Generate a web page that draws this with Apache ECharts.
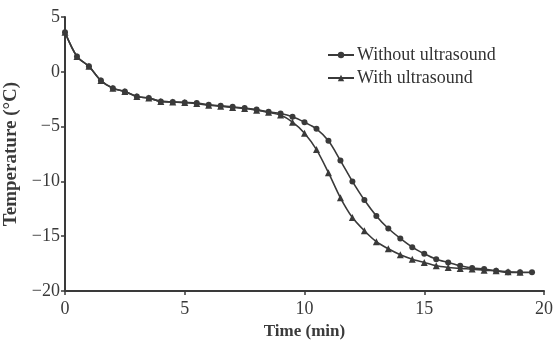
<!DOCTYPE html>
<html>
<head>
<meta charset="utf-8">
<script src="https://cdn.jsdelivr.net/npm/echarts@6/dist/echarts.min.js"></script>
<style>
  html, body { margin: 0; padding: 0; background: #fff; }
  #chart { width: 554px; height: 340px; }
</style>
</head>
<body>
<div id="chart"></div>
<script>
// time (min), sampled every 0.5 min
const timeWithout = [0, 0.5, 1, 1.5, 2, 2.5, 3, 3.5, 4, 4.5, 5, 5.5, 6, 6.5, 7, 7.5, 8, 8.5, 9, 9.5,
  10, 10.5, 11, 11.5, 12, 12.5, 13, 13.5, 14, 14.5, 15, 15.5, 16, 16.5, 17, 17.5, 18, 18.5, 19, 19.5];
const tempWithout = [3.6, 1.4, 0.5, -0.8, -1.5, -1.8, -2.25, -2.4, -2.7, -2.75, -2.8, -2.85, -3.0, -3.1, -3.2, -3.3, -3.45, -3.65, -3.8, -4.1,
  -4.6, -5.2, -6.3, -8.1, -10.0, -11.7, -13.15, -14.3, -15.2, -16.0, -16.6, -17.1, -17.4, -17.7, -17.9, -18.0, -18.15, -18.3, -18.3, -18.3];

const timeWith = [0, 0.5, 1, 1.5, 2, 2.5, 3, 3.5, 4, 4.5, 5, 5.5, 6, 6.5, 7, 7.5, 8, 8.5, 9, 9.5,
  10, 10.5, 11, 11.5, 12, 12.5, 13, 13.5, 14, 14.5, 15, 15.5, 16, 16.5, 17, 17.5, 18, 18.5, 19];
const tempWith = [3.6, 1.4, 0.5, -0.8, -1.5, -1.8, -2.25, -2.4, -2.7, -2.75, -2.8, -2.9, -3.05, -3.15, -3.25, -3.35, -3.5, -3.7, -3.95, -4.6,
  -5.6, -7.1, -9.2, -11.5, -13.3, -14.5, -15.5, -16.15, -16.7, -17.1, -17.4, -17.7, -17.85, -17.95, -18.0, -18.1, -18.15, -18.25, -18.3];

const seriesNames = ["Without ultrasound", "With ultrasound"];
const xTicks = { min: 0, max: 20, interval: 5 };
const yTicks = { min: -20, max: 5, interval: 5 };

const ink = "#3a3a3a";
const serif = "'Liberation Serif', 'DejaVu Serif', serif";

const chart = echarts.init(document.getElementById("chart"));

const zip = (xs, ys) => xs.map((x, i) => [x, ys[i]]);

chart.setOption({
  animation: false,
  backgroundColor: "#fff",
  grid: { left: 65, right: 10, top: 17, bottom: 49, containLabel: false, outerBoundsMode: "none" },
  legend: {
    orient: "vertical",
    left: 322,
    top: 41,
    itemWidth: 26,
    itemHeight: 8,
    itemGap: 5,
    data: seriesNames,
    textStyle: { fontFamily: serif, fontSize: 18, color: "#333", padding: [0, 0, 0, -2] }
  },
  xAxis: {
    type: "value",
    min: xTicks.min,
    max: xTicks.max,
    interval: xTicks.interval,
    name: "Time (min)",
    nameLocation: "middle",
    nameGap: 28,
    nameTextStyle: { fontFamily: serif, fontSize: 17, fontWeight: "bold", color: ink },
    axisLine: { onZero: false, lineStyle: { color: ink, width: 2 } },
    axisTick: { length: 4, lineStyle: { color: ink, width: 1.5 } },
    axisLabel: { fontFamily: serif, fontSize: 18, color: ink, margin: 9 },
    splitLine: { show: false }
  },
  yAxis: {
    type: "value",
    min: yTicks.min,
    max: yTicks.max,
    interval: yTicks.interval,
    name: "Temperature (°C)",
    nameLocation: "middle",
    nameGap: 44,
    nameTextStyle: { fontFamily: serif, fontSize: 19, fontWeight: "bold", color: ink },
    axisLine: { show: true, onZero: false, lineStyle: { color: ink, width: 2 } },
    axisTick: { show: true, length: 4, lineStyle: { color: ink, width: 1.5 } },
    axisLabel: {
      fontFamily: serif, fontSize: 18, color: ink, margin: 5,
      formatter: v => String(v).replace("-", "\u2212")
    },
    splitLine: { show: false }
  },
  series: [
    {
      name: seriesNames[0],
      type: "line",
      data: zip(timeWithout, tempWithout),
      smooth: 0.3,
      symbol: "circle",
      symbolSize: 6,
      lineStyle: { color: ink, width: 1.6 },
      itemStyle: { color: ink }
    },
    {
      name: seriesNames[1],
      type: "line",
      data: zip(timeWith, tempWith),
      smooth: 0.3,
      symbol: "triangle",
      symbolSize: 7,
      lineStyle: { color: ink, width: 1.6 },
      itemStyle: { color: ink }
    }
  ]
});
</script>
</body>
</html>
